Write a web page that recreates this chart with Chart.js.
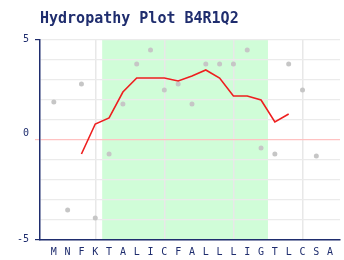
<!DOCTYPE html>
<html>
<head>
<meta charset="utf-8">
<script src="https://cdn.jsdelivr.net/npm/chart.js@4/dist/chart.umd.min.js"></script>
<style>
  html, body { margin: 0; padding: 0; background: #ffffff; }
  #wrap { width: 344px; height: 260px; position: relative; }
</style>
</head>
<body>
<div id="wrap"><canvas id="c"></canvas></div>
<script>
// ---- data ----
const residues = ['M','N','F','K','T','A','L','I','C','F','A','L','L','L','I','G','T','L','C','S','A'];
const hydropathy = [1.9,-3.5,2.8,-3.9,-0.7,1.8,3.8,4.5,2.5,2.8,1.8,3.8,3.8,3.8,4.5,-0.4,-0.7,3.8,2.5,-0.8,null];
const windowStart = 2;
const windowAverage = [-0.7,0.8,1.1,2.4,3.1,3.1,3.1,2.95,3.2,3.5,3.1,2.2,2.2,2.0,0.9,1.3];
const regionStart = 4;   // first residue of shaded (hydrophobic) region
const regionEnd = 15;    // last residue of shaded region
const yTickLabels = { '5': '5', '0': ['0', ''], '-5': '-5' };

const NAVY = '#1f2d6e';
const MONO = "'DejaVu Sans Mono', 'Liberation Mono', monospace";

const pointData = hydropathy.map((v, i) => ({ x: i, y: v }));
const lineData = windowAverage.map((v, i) => ({ x: windowStart + i, y: v }));

const regionPlugin = {
  id: 'region',
  beforeDraw(chart) {
    const { ctx, chartArea, scales } = chart;
    const x0 = scales.x.getPixelForValue(regionStart - 0.5);
    const x1 = scales.x.getPixelForValue(regionEnd + 0.5);
    ctx.save();
    ctx.fillStyle = '#d0fdd8';
    ctx.fillRect(x0, chartArea.top, x1 - x0, chartArea.bottom - chartArea.top);
    ctx.restore();
  }
};

new Chart(document.getElementById('c'), {
  type: 'scatter',
  data: {
    datasets: [
      {
        label: 'window average',
        data: lineData,
        showLine: true,
        borderColor: '#ee1f1f',
        borderWidth: 1.6,
        pointRadius: 0,
        pointHoverRadius: 0,
        fill: false,
        tension: 0
      },
      {
        label: 'hydropathy',
        data: pointData,
        showLine: false,
        pointStyle: 'circle',
        pointRadius: 2.5,
        pointBackgroundColor: '#c6c6c6',
        pointBorderWidth: 0
      }
    ]
  },
  options: {
    responsive: true,
    maintainAspectRatio: false,
    animation: false,
    events: [],
    layout: { padding: { left: 0, right: 0, top: 0, bottom: 0 } },
    plugins: {
      legend: { display: false },
      tooltip: { enabled: false },
      title: {
        display: true,
        text: 'Hydropathy Plot B4R1Q2',
        align: 'start',
        fullSize: false,
        color: NAVY,
        font: { family: MONO, size: 15, weight: 'bold', lineHeight: 1.2 },
        padding: { top: 10, bottom: 12 }
      }
    },
    scales: {
      x: {
        type: 'linear',
        min: -1,
        max: -1 + 304 / 14,
        afterBuildTicks(scale) {
          scale.ticks = residues.map((_, i) => ({ value: i }));
        },
        afterFit(scale) { scale.height = 20; },
        ticks: {
          autoSkip: false,
          maxRotation: 0,
          padding: 6,
          color: NAVY,
          font: { family: MONO, size: 10, lineHeight: 1.2 },
          callback: (v) => residues[v]
        },
        grid: {
          drawTicks: false,
          color: (ctx) => (ctx.tick && ctx.tick.value % 5 === 3) ? '#e8e8e8' : 'rgba(0,0,0,0)',
          lineWidth: 1.5
        },
        border: { display: true, color: NAVY, width: 1.5 }
      },
      y: {
        type: 'linear',
        min: -5,
        max: 5,
        afterBuildTicks(scale) {
          const t = [];
          for (let v = -5; v <= 5; v++) t.push({ value: v });
          scale.ticks = t;
        },
        afterFit(scale) { scale.width = 40; },
        ticks: {
          autoSkip: false,
          padding: 6,
          labelOffset: -1,
          color: NAVY,
          font: { family: MONO, size: 10, lineHeight: '11px' },
          callback: (v) => (yTickLabels[String(v)] !== undefined ? yTickLabels[String(v)] : '')
        },
        grid: {
          tickLength: 5,
          color: (ctx) => (ctx.tick && ctx.tick.value === 0) ? '#ffc2c2' : '#ebebeb',
          tickColor: (ctx) => {
            const v = ctx.tick ? ctx.tick.value : null;
            if (v === 0) return '#ffc2c2';
            if (v === 5 || v === -5) return NAVY;
            return 'rgba(0,0,0,0)';
          },
          lineWidth: 1.2
        },
        border: { display: true, color: NAVY, width: 1.5 }
      }
    }
  },
  plugins: [regionPlugin]
});
</script>
</body>
</html>
